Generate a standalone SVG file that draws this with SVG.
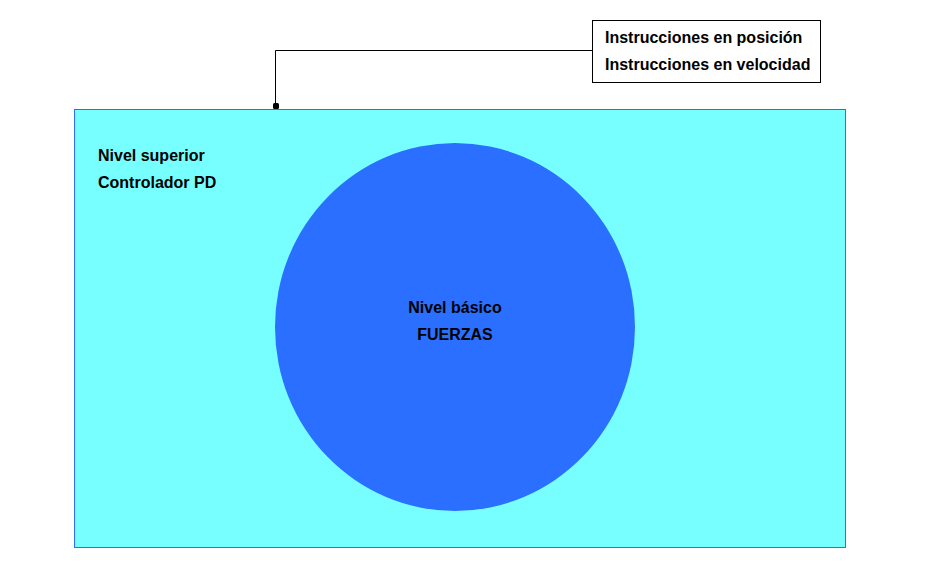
<svg xmlns="http://www.w3.org/2000/svg" width="933" height="581" viewBox="0 0 933 581">
<style>
text{font-family:"Liberation Sans",Arial,sans-serif;font-size:16px;font-weight:bold;fill:#000}
.c{stroke:#000;stroke-width:1;fill:none}
</style>
<rect width="933" height="581" fill="#fff"/>
<g id="outer">
<rect x="74.5" y="109.5" width="771" height="438" fill="#77ffff" stroke="#2a6fff" stroke-width="1"/>
<text x="98" y="161">Nivel superior</text>
<text x="98" y="188">Controlador PD</text>
</g>
<g id="inner">
<ellipse cx="455" cy="327" rx="180" ry="184" fill="#2a6fff"/>
<text x="455" y="313" text-anchor="middle">Nivel básico</text>
<text x="455" y="340" text-anchor="middle">FUERZAS</text>
</g>
<g id="note">
<rect x="592.5" y="20.5" width="228" height="62" fill="#fff" stroke="#000" stroke-width="1"/>
<text x="605" y="43">Instrucciones en posición</text>
<text x="605" y="70">Instrucciones en velocidad</text>
</g>
<g id="connectors">
<path class="c" d="M592.5 50.5H275.5V106"/>
<rect x="273" y="103" width="6" height="6" rx="1.5" fill="#000"/>
</g>
</svg>
